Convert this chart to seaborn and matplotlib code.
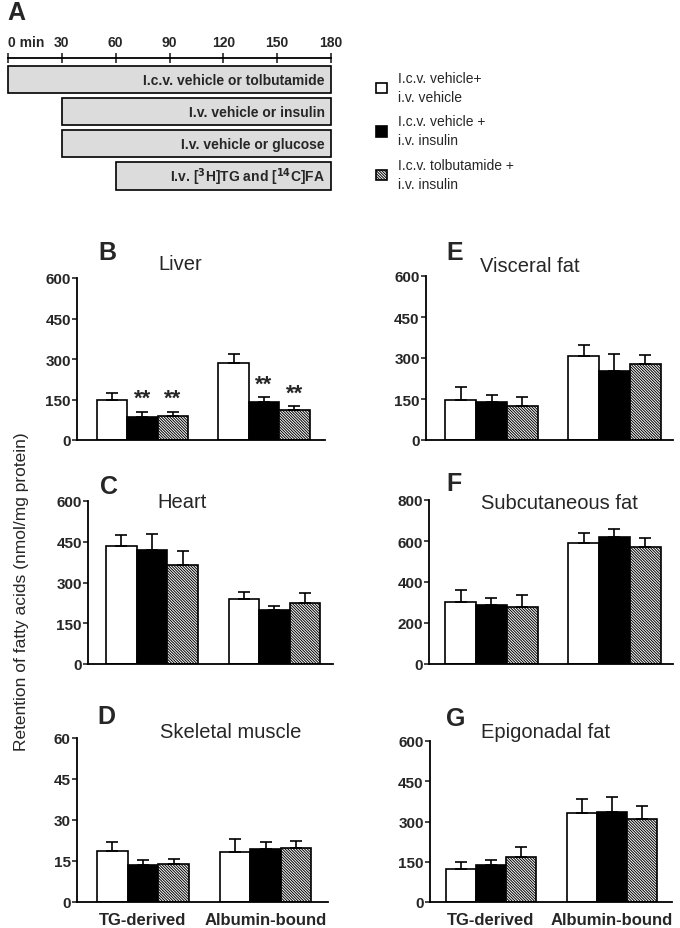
import matplotlib
matplotlib.use('Agg')
import matplotlib.pyplot as plt
from matplotlib import font_manager
from matplotlib.patches import Patch
import numpy as np
import pandas as pd
import seaborn as sns

# Protocol timeline (panel A)
protocol_labels = ['I.c.v. vehicle or tolbutamide', 'I.v. vehicle or insulin',
                   'I.v. vehicle or glucose', r'I.v. [$^{\mathbf{3}}$H]TG and [$^{\mathbf{14}}$C]FA']
protocol_start = [0, 30, 30, 60]
protocol_end = [180, 180, 180, 180]
time_ticks = [0, 30, 60, 90, 120, 150, 180]
time_labels = ['0 min', '30', '60', '90', '120', '150', '180']

# Categories
fractions = ['TG-derived', 'Albumin-bound']
groups = ['I.c.v. vehicle+\ni.v. vehicle', 'I.c.v. vehicle +\ni.v. insulin',
          'I.c.v. tolbutamide +\ni.v. insulin']

# Means and SEM, order: TG (3 groups), Albumin (3 groups)
liver_mean = [148, 85, 89, 284, 141, 110]
liver_sem = [27, 20, 16, 34, 19, 17]
heart_mean = [436, 420, 365, 238, 197, 226]
heart_sem = [40, 60, 52, 26, 17, 35]
muscle_mean = [18.7, 13.5, 13.8, 18.4, 19.3, 19.6]
muscle_sem = [3.1, 2.0, 2.1, 4.6, 2.5, 2.6]
visceral_mean = [147, 140, 124, 307, 252, 278]
visceral_sem = [46, 24, 32, 42, 64, 33]
subcut_mean = [304, 289, 276, 590, 618, 569]
subcut_sem = [55, 33, 62, 51, 41, 44]
epigon_mean = [122, 137, 166, 333, 337, 308]
epigon_sem = [28, 20, 40, 49, 56, 51]

# significance marks (Liver only)
liver_stars = ['', '**', '**', '', '**', '**']

HATCH = '\\' * 12

sns.set_style('ticks')
names = {f.name for f in font_manager.fontManager.ttflist}
narrow = 'Liberation Sans Narrow' if 'Liberation Sans Narrow' in names else 'Liberation Sans'
plt.rcParams['font.family'] = ['Liberation Sans', 'DejaVu Sans']
plt.rcParams['hatch.linewidth'] = 0.7
plt.rcParams['axes.edgecolor'] = 'black'

W, H = 680, 929
fig = plt.figure(figsize=(W / 100, H / 100), dpi=100)


def rect(l, t, r, b):
    return [l / W, 1 - b / H, (r - l) / W, (b - t) / H]


# ---- Panel A: protocol
axA = fig.add_axes(rect(8, 59, 331, 193))
axA.barh(y=np.arange(len(protocol_labels)),
         width=np.array(protocol_end) - np.array(protocol_start),
         left=protocol_start, height=0.85, color='#dcdcdc',
         edgecolor='black', linewidth=1.2, clip_on=False)
for i, lab in enumerate(protocol_labels):
    axA.text(176.5, i, lab, ha='right', va='center', fontsize=10,
             fontweight='bold', family=[narrow, 'DejaVu Sans'])
axA.set_xlim(0, 180)
axA.set_ylim(3.5, -0.67)
axA.set_yticks([])
axA.xaxis.tick_top()
axA.set_xticks(time_ticks)
axA.set_xticklabels(time_labels, fontsize=10, fontweight='bold', family=[narrow, 'DejaVu Sans'])
axA.get_xticklabels()[0].set_horizontalalignment('left')
axA.tick_params(axis='x', direction='inout', length=7, width=1.2, pad=3)
for s in ['left', 'right', 'bottom']:
    axA.spines[s].set_visible(False)
axA.spines['top'].set_linewidth(1.3)
fig.text(7 / W, 1 - 13 / H, 'A', fontsize=18, fontweight='bold', va='center', ha='left')

# legend
handles = [Patch(facecolor='white', edgecolor='black', linewidth=1.2),
           Patch(facecolor='black', edgecolor='black', linewidth=1.2),
           Patch(facecolor='white', edgecolor='black', linewidth=1.2, hatch=HATCH)]
leg = fig.legend(handles, groups, loc='upper left', bbox_to_anchor=(376 / W, 1 - 72 / H),
                 frameon=False, handlelength=0.8, handleheight=0.8, handletextpad=0.8,
                 labelspacing=0.75, borderpad=0, borderaxespad=0,
                 prop={'family': [narrow, 'DejaVu Sans'], 'size': 10})
for t in leg.get_texts():
    t.set_linespacing(1.45)


# ---- Bar panels
def draw_panel(ax, mean, sem, ymax, step, xlim, bottom=False, stars=None):
    df = pd.DataFrame({'fraction': np.repeat(fractions, 3),
                       'group': groups * 2, 'value': mean})
    sns.barplot(data=df, x='fraction', y='value', hue='group', order=fractions,
                hue_order=groups, palette=['white', 'black', 'white'], saturation=1,
                edgecolor='black', linewidth=1.2, width=0.75, gap=0,
                errorbar=None, legend=False, ax=ax)
    bars = sorted(ax.patches, key=lambda p: p.get_x())
    for idx in (2, 5):
        bars[idx].set_hatch(HATCH)
    xs = [p.get_x() + p.get_width() / 2 for p in bars]
    ax.errorbar(xs, mean, yerr=[np.zeros(len(sem)), sem], fmt='none', ecolor='black',
                elinewidth=1.2, capsize=4.5, capthick=1.2, zorder=3)
    if stars:
        for x, m, e, st in zip(xs, mean, sem, stars):
            if st:
                ax.text(x, m + e + ymax * 0.08, st, ha='center', va='center',
                        fontsize=16, fontweight='bold')
    ax.set_ylim(0, ymax)
    ax.set_yticks(np.arange(0, ymax + step / 2, step))
    ax.set_xlim(*xlim)
    ax.set_xlabel('')
    ax.set_ylabel('')
    sns.despine(ax=ax)
    ax.spines['left'].set_linewidth(1.3)
    ax.spines['bottom'].set_linewidth(1.3)
    ax.tick_params(axis='y', length=3.5, width=1.2, pad=1, labelsize=11)
    for lab in ax.get_yticklabels():
        lab.set_fontweight('bold')
    ax.tick_params(axis='x', length=0, pad=7, labelsize=12)
    if bottom:
        for lab in ax.get_xticklabels():
            lab.set_fontweight('bold')
    else:
        ax.set_xticklabels([])


panels = [
    # letter, title, mean, sem, ymax, step, box(l,t,r,b), xlim, letter pos, title pos, bottom, stars
    ('B', 'Liver', liver_mean, liver_sem, 600, 150, (77, 279, 325, 441), (-0.539, 1.502),
     (98, 253), (180, 264), False, liver_stars),
    ('C', 'Heart', heart_mean, heart_sem, 600, 150, (88, 502, 333, 665), (-0.522, 1.478),
     (100, 487), (182, 503), False, None),
    ('D', 'Skeletal muscle', muscle_mean, muscle_sem, 60, 15, (77, 739, 328, 903), (-0.539, 1.51),
     (97, 717), (231, 733), True, None),
    ('E', 'Visceral fat', visceral_mean, visceral_sem, 600, 150, (426, 277, 673, 441), (-0.533, 1.476),
     (446, 253), (530, 266), False, None),
    ('F', 'Subcutaneous fat', subcut_mean, subcut_sem, 800, 200, (429, 501, 673, 665), (-0.508, 1.476),
     (446, 484), (559, 504), False, None),
    ('G', 'Epigonadal fat', epigon_mean, epigon_sem, 600, 150, (430, 742, 672, 903), (-0.504, 1.496),
     (446, 719), (546, 733), True, None),
]

for letter, title, m, e, ymax, step, box, xlim, lpos, tpos, bottom, stars in panels:
    ax = fig.add_axes(rect(*box))
    draw_panel(ax, m, e, ymax, step, xlim, bottom=bottom, stars=stars)
    fig.text(lpos[0] / W, 1 - lpos[1] / H, letter, fontsize=18, fontweight='bold',
             ha='left', va='center')
    fig.text(tpos[0] / W, 1 - tpos[1] / H, title, fontsize=14.5, ha='center', va='center')

fig.text(22 / W, 1 - 592 / H, 'Retention of fatty acids (nmol/mg protein)', rotation=90,
         fontsize=12.5, ha='center', va='center')

fig.savefig('out.png', dpi=100)
